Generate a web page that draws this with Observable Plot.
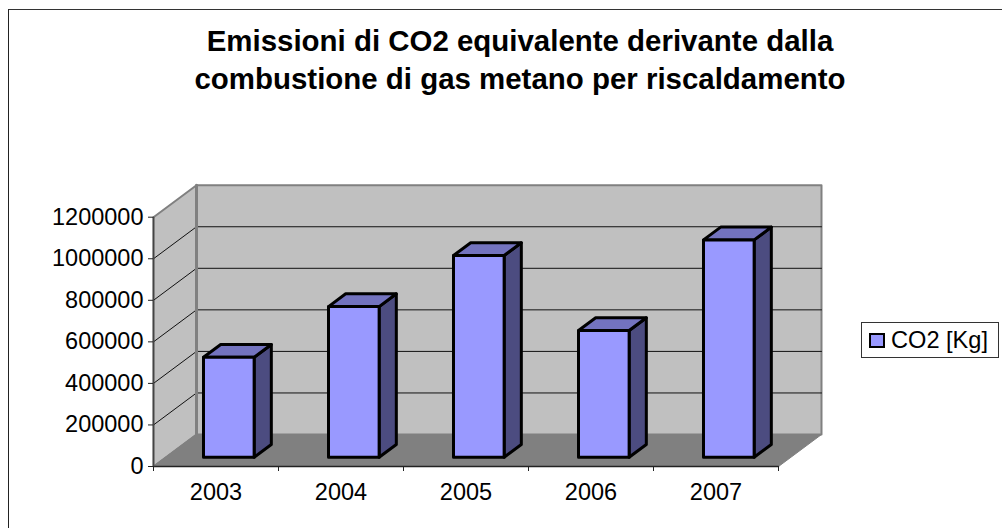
<!DOCTYPE html>
<html>
<head>
<meta charset="utf-8">
<script src="https://cdn.jsdelivr.net/npm/d3@7"></script>
<script src="https://cdn.jsdelivr.net/npm/@observablehq/plot@0.6"></script>
<style>
  html, body { margin: 0; padding: 0; background: #fff; }
  #chart { position: relative; width: 1002px; height: 528px; overflow: hidden; font-family: "Liberation Sans", Arial, sans-serif; }
  #frame { position: absolute; left: 8px; top: 9px; width: 994px; height: 519px; border-left: 1.5px solid #222; border-top: 1.5px solid #333; box-sizing: border-box; }
  #title { position: absolute; left: 1px; width: 1038px; top: 22px; text-align: center; font-size: 29.45px; font-weight: bold; line-height: 38.4px; color: #000; }
  #legend { position: absolute; left: 861px; top: 322px; width: 138px; height: 36px; border: 1px solid #333; box-sizing: border-box; background: #fff; font-size: 23.6px; line-height: 34px; color: #000; white-space: nowrap; }
  #legend i { position: absolute; left: 7px; top: 10px; width: 16px; height: 15px; box-sizing: border-box; background: #9999ff; border: 2.5px solid #000; }
  #legend span { position: absolute; left: 29px; top: 0; }
  svg { position: absolute; left: 0; top: 0; }
</style>
</head>
<body>
<div id="chart">
  <div id="plot"></div>
  <div id="frame"></div>
  <div id="title">Emissioni di CO2 equivalente derivante dalla<br>combustione di gas metano per riscaldamento</div>
  <div id="legend"><i></i><span>CO2 [Kg]</span></div>
</div>
<script>
const years = ["2003", "2004", "2005", "2006", "2007"];
const co2Kg = [481000, 725000, 971000, 610000, 1046000];
const yTicks = [0, 200000, 400000, 600000, 800000, 1000000, 1200000];
const xEdges = [0, 1, 2, 3, 4, 5];

// oblique projection: one unit of depth moves a point this far in data units
const depthX = 0.344, depthY = 154000;
const barInset = 0.4, barWidth = 0.405, barDepth0 = 0.29, barDepth1 = 0.69;
const P = (id, x, v, d) => ({id, x: x + d * depthX, y: v + d * depthY});
const poly = (id, pts) => pts.map(([x, v, d]) => P(id, x, v, d));
const yMax = yTicks[yTicks.length - 1], xMax = xEdges[xEdges.length - 1];

const backWall = poly("back", [[0,0,1],[xMax,0,1],[xMax,yMax,1],[0,yMax,1]]);
const sideWall = poly("side", [[0,0,0],[0,0,1],[0,yMax,1],[0,yMax,0]]);
const floor = poly("floor", [[0,0,0],[xMax,0,0],[xMax,0,1],[0,0,1]]);
const gridBack = yTicks.slice(1, -1).flatMap(v => poly("b" + v, [[0,v,1],[xMax,v,1]]));
const gridSide = yTicks.slice(1, -1).flatMap(v => poly("s" + v, [[0,v,0],[0,v,1]]));

const fronts = [], tops = [], sides = [];
years.forEach((yr, i) => {
  const l = i + barInset - barDepth0 * depthX, r = l + barWidth, v = co2Kg[i];
  fronts.push(...poly(yr, [[l,0,barDepth0],[r,0,barDepth0],[r,v,barDepth0],[l,v,barDepth0]]));
  tops.push(...poly(yr, [[l,v,barDepth0],[r,v,barDepth0],[r,v,barDepth1],[l,v,barDepth1]]));
  sides.push(...poly(yr, [[r,0,barDepth0],[r,0,barDepth1],[r,v,barDepth1],[r,v,barDepth0]]));
});

const face = (data, fill, stroke, strokeWidth) => Plot.line(data, {
  x: "x", y: "y", z: "id", fill, stroke, strokeWidth, curve: "linear-closed", strokeLinejoin: "round"
});
const seg = (data, stroke, strokeWidth) => Plot.line(data, {x: "x", y: "y", z: "id", stroke, strokeWidth});

const chart = Plot.plot({
  width: 1002, height: 528,
  marginLeft: 153, marginRight: 224, marginTop: 216.7, marginBottom: 62,
  style: {fontFamily: '"Liberation Sans", Arial, sans-serif', background: "transparent", overflow: "visible"},
  x: {domain: [0, xMax], axis: null},
  y: {domain: [0, yMax], axis: null},
  marks: [
    face(backWall, "#c0c0c0", "#808080", 2),
    face(sideWall, "#c0c0c0", "#808080", 2),
    face(floor, "#808080", "#808080", 1),
    seg(gridBack, "#111", 1),
    seg(gridSide, "#111", 1),
    seg(poly("wallEdge", [[0,0,1],[0,yMax,1]]), "#808080", 3),
    seg(poly("ax", [[0,0,0],[xMax,0,0]]), "#222", 1.4),
    seg(poly("ay", [[0,0,0],[0,yMax,0]]), "#444", 1.6),
    Plot.axisY({ticks: yTicks, anchor: "left", tickSize: 5, tickPadding: 5, tickFormat: d => String(d), fontSize: 23.5, label: null, color: "#000", stroke: "#222"}),
    Plot.axisX({ticks: xEdges, anchor: "bottom", tickSize: 5, tickFormat: () => "", label: null, stroke: "#222"}),
    Plot.text(years, {x: (d, i) => i + 0.5, frameAnchor: "bottom", dy: 33, text: d => d, fontSize: 23.5, fill: "#000", lineAnchor: "bottom"}),
    face(sides, "#4c4c80", "#000", 3),
    face(tops, "#7373bf", "#000", 3),
    face(fronts, "#9999ff", "#000", 3)
  ]
});
document.getElementById("plot").appendChild(chart);
</script>
</body>
</html>
